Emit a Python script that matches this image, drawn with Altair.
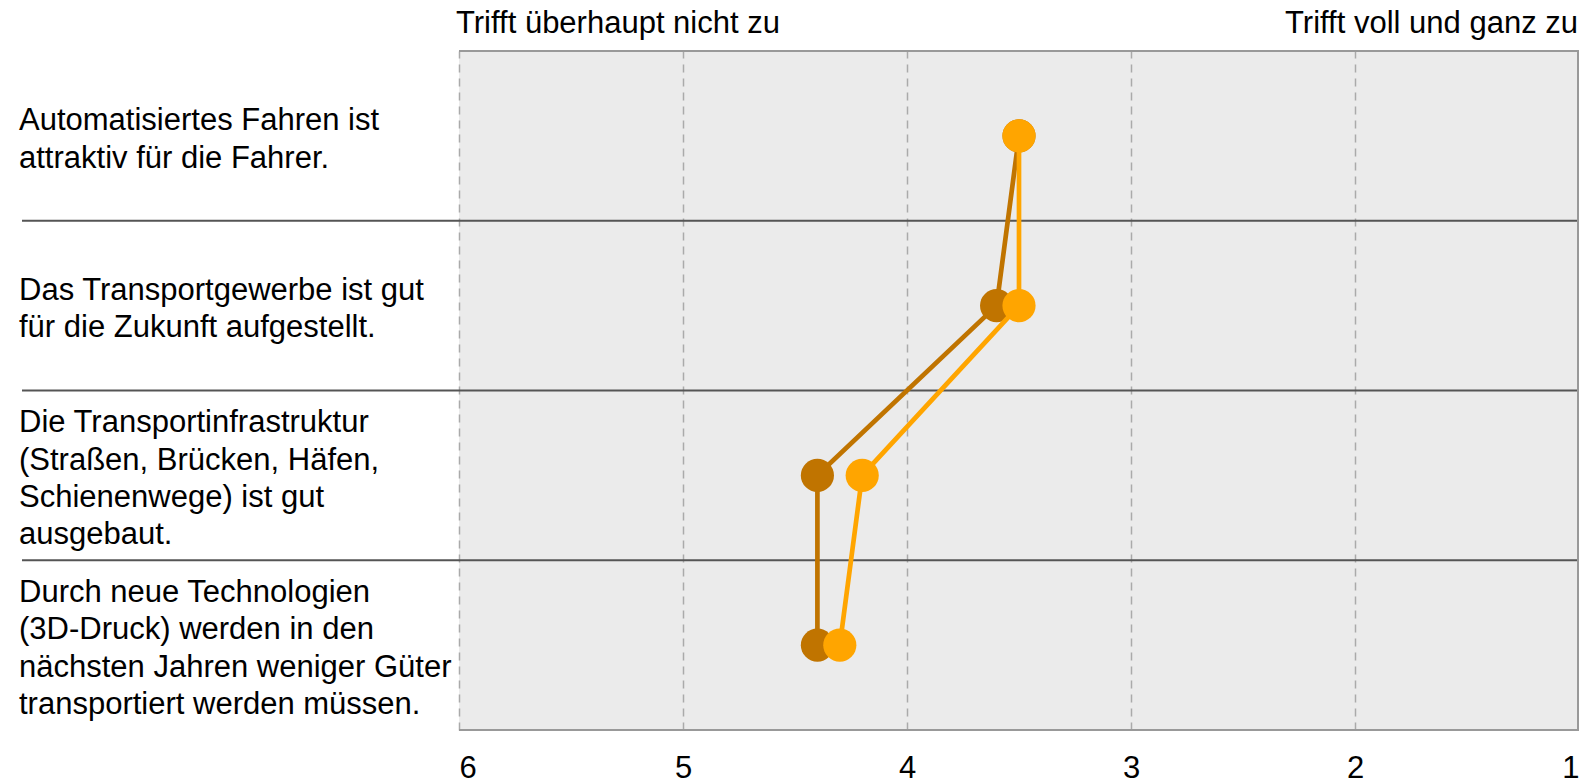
import altair as alt
import pandas as pd

categories = [
    "Automatisiertes Fahren ist\nattraktiv für die Fahrer.",
    "Das Transportgewerbe ist gut\nfür die Zukunft aufgestellt.",
    "Die Transportinfrastruktur\n(Straßen, Brücken, Häfen,\nSchienenwege) ist gut\nausgebaut.",
    "Durch neue Technologien\n(3D-Druck) werden in den\nnächsten Jahren weniger Güter\ntransportiert werden müssen.",
]
series_names = ["Gruppe A", "Gruppe B"]
series_colors = ["#C07400", "#FFA500"]
values_a = [3.5, 3.6, 4.4, 4.4]
values_b = [3.5, 3.5, 4.2, 4.3]
x_ticks = [6, 5, 4, 3, 2, 1]
scale_labels = ["Trifft überhaupt nicht zu", "Trifft voll und ganz zu"]
separators = [0.5, 1.5, 2.5]

W, H = 1120, 679
FONT = "Liberation Sans"
LINE_H = 37.3

rows = []
for name, vals in zip(series_names, [values_a, values_b]):
    for i, v in enumerate(vals):
        rows.append({"idx": i, "series": name, "value": v})
df = pd.DataFrame(rows)
cat_df = pd.DataFrame({
    "idx": list(range(len(categories))),
    "label": categories,
    "nlines": [c.count("\n") + 1 for c in categories],
})
sep_df = pd.DataFrame({"pos": separators})
head_df = pd.DataFrame({"x": [x_ticks[0], x_ticks[-1]], "label": scale_labels})

xscale = alt.Scale(domain=[1, 6], reverse=True, nice=False, zero=False)
yscale = alt.Scale(domain=[-0.5, 3.5], reverse=True, nice=False, zero=False)
cscale = alt.Scale(domain=series_names, range=series_colors)

x_axis = alt.Axis(values=x_ticks, format="d", grid=True, gridDash=[8, 6],
                  gridColor="#aaaaaa", gridWidth=1.5, domain=False, ticks=False,
                  labelFontSize=31, labelFont=FONT, labelColor="black",
                  labelPadding=23, title=None)

base = alt.Chart(df)

seps = alt.Chart(sep_df).mark_rule(color="#555555", strokeWidth=1.8).encode(
    y=alt.Y("pos:Q", scale=yscale, axis=None),
    x=alt.value(-437), x2=alt.value(W),
)

border_top = alt.Chart(sep_df).mark_rule(color="#999999", strokeWidth=2).encode(
    x=alt.value(0), x2=alt.value(W), y=alt.value(0))
border_bottom = alt.Chart(sep_df).mark_rule(color="#999999", strokeWidth=2).encode(
    x=alt.value(0), x2=alt.value(W), y=alt.value(H))
border_right = alt.Chart(sep_df).mark_rule(color="#999999", strokeWidth=2).encode(
    x=alt.value(W - 1), y=alt.value(0), y2=alt.value(H))

layers = []
for k, name in enumerate(series_names):
    sub = base.transform_filter(alt.datum.series == name)
    line = sub.mark_line(strokeWidth=4.7).encode(
        x=alt.X("value:Q", scale=xscale, axis=x_axis),
        y=alt.Y("idx:Q", scale=yscale, axis=None),
        color=alt.Color("series:N", scale=cscale, legend=None),
        order="idx:Q",
    )
    pts = sub.mark_circle(size=1100, opacity=1).encode(
        x=alt.X("value:Q", scale=xscale, axis=x_axis),
        y=alt.Y("idx:Q", scale=yscale, axis=None),
        color=alt.Color("series:N", scale=cscale, legend=None),
    )
    layers += [line, pts]

text_layers = []
for n in sorted(set(cat_df["nlines"])):
    text_layers.append(
        alt.Chart(cat_df).transform_filter(alt.datum.nlines == int(n)).mark_text(
            align="left", baseline="middle", fontSize=31, lineHeight=LINE_H,
            lineBreak="\n", font=FONT, color="black", dy=-(n - 1) * LINE_H / 2 + 4,
        ).encode(
            x=alt.value(-440),
            y=alt.Y("idx:Q", scale=yscale, axis=None),
            text="label:N",
        )
    )

head_left = alt.Chart(head_df).transform_filter(alt.datum.x == x_ticks[0]).mark_text(
    align="left", baseline="middle", fontSize=31, font=FONT, color="black", dx=-3,
).encode(x=alt.X("x:Q", scale=xscale, axis=x_axis), y=alt.value(-27), text="label:N")
head_right = alt.Chart(head_df).transform_filter(alt.datum.x == x_ticks[-1]).mark_text(
    align="right", baseline="middle", fontSize=31, font=FONT, color="black", dx=-1,
).encode(x=alt.X("x:Q", scale=xscale, axis=x_axis), y=alt.value(-27), text="label:N")

chart = alt.layer(
    seps, *layers, border_top, border_bottom, border_right,
    *text_layers, head_left, head_right,
).properties(
    width=W, height=H,
    autosize=alt.AutoSizeParams(type="none"),
    padding={"left": 451, "top": 43, "right": 0, "bottom": 52},
).configure(
    font=FONT,
    view=alt.ViewConfig(fill="#EBEBEB", strokeWidth=0),
)

chart.save("out.html", embed_options={"renderer": "svg", "actions": False})
